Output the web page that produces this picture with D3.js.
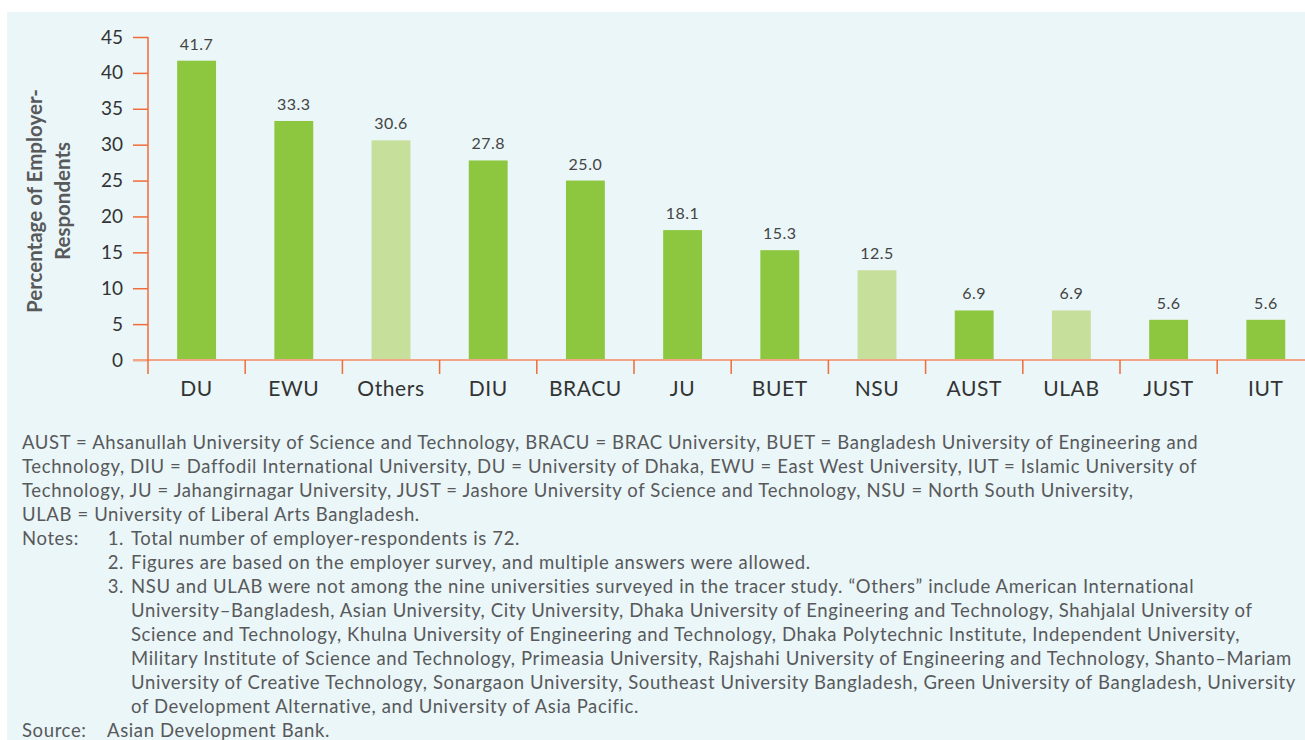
<!DOCTYPE html>
<html>
<head>
<meta charset="utf-8">
<script src="https://cdn.jsdelivr.net/npm/d3@7"></script>
<style>
  body { margin: 0; background: #fff; }
  svg text { font-family: Lato, "Open Sans", sans-serif; }
</style>
</head>
<body>
<div id="chart"></div>
<script>
// Data
var categories = ["DU", "EWU", "Others", "DIU", "BRACU", "JU", "BUET", "NSU", "AUST", "ULAB", "JUST", "IUT"];
var values = [41.7, 33.3, 30.6, 27.8, 25.0, 18.1, 15.3, 12.5, 6.9, 6.9, 5.6, 5.6];
var notSurveyed = ["Others", "NSU", "ULAB"];
var yTicks = [0, 5, 10, 15, 20, 25, 30, 35, 40, 45];

var noteLines = [
  "AUST = Ahsanullah University of Science and Technology, BRACU = BRAC University, BUET = Bangladesh University of Engineering and",
  "Technology, DIU = Daffodil International University, DU = University of Dhaka, EWU = East West University, IUT = Islamic University of",
  "Technology, JU = Jahangirnagar University, JUST = Jashore University of Science and Technology, NSU = North South University,",
  "ULAB = University of Liberal Arts Bangladesh."
];
var notes = [
  ["1.", "Total number of employer-respondents is 72."],
  ["2.", "Figures are based on the employer survey, and multiple answers were allowed."],
  ["3.", "NSU and ULAB were not among the nine universities surveyed in the tracer study. \u201cOthers\u201d include American International"],
  ["", "University\u2013Bangladesh, Asian University, City University, Dhaka University of Engineering and Technology, Shahjalal University of"],
  ["", "Science and Technology, Khulna University of Engineering and Technology, Dhaka Polytechnic Institute, Independent University,"],
  ["", "Military Institute of Science and Technology, Primeasia University, Rajshahi University of Engineering and Technology, Shanto\u2013Mariam"],
  ["", "University of Creative Technology, Sonargaon University, Southeast University Bangladesh, Green University of Bangladesh, University"],
  ["", "of Development Alternative, and University of Asia Pacific."]
];

var svgWidth = 1305;
var svgHeight = 740;
var margin = { top: 37, left: 148 };
var chartHeight = 323;

var svg = d3.select("#chart")
  .append("svg")
  .attr("width", svgWidth)
  .attr("height", svgHeight);

// panel background
svg.append("rect")
  .attr("x", 7)
  .attr("y", 12)
  .attr("width", svgWidth - 7)
  .attr("height", svgHeight - 12)
  .attr("fill", "#eaf6f8");

var chartGroup = svg.append("g")
  .attr("transform", `translate(${margin.left}, ${margin.top})`);

var xScale = d3.scaleBand()
  .domain(categories)
  .range([0, 12 * 97.2])
  .paddingInner(0.6)
  .paddingOuter(0.3);

var yScale = d3.scaleLinear()
  .domain([0, 45])
  .range([chartHeight, 0]);

// bars
chartGroup.selectAll("rect.bar")
  .data(values)
  .enter()
  .append("rect")
  .attr("class", "bar")
  .attr("x", (d, i) => xScale(categories[i]))
  .attr("y", d => yScale(d))
  .attr("width", xScale.bandwidth())
  .attr("height", d => chartHeight - yScale(d))
  .attr("fill", (d, i) => notSurveyed.includes(categories[i]) ? "#c6df9b" : "#8dc63f");

// value labels
chartGroup.selectAll("text.val")
  .data(values)
  .enter()
  .append("text")
  .attr("class", "val")
  .attr("x", (d, i) => xScale(categories[i]) + xScale.bandwidth() / 2)
  .attr("y", d => yScale(d) - 11)
  .attr("text-anchor", "middle")
  .attr("font-size", 16)
  .style("letter-spacing", "0.5px")
  .attr("fill", "#444")
  .text(d => d.toFixed(1));

// y axis
var leftAxis = d3.axisLeft(yScale)
  .tickValues(yTicks)
  .tickSize(15)
  .tickPadding(10);

var yAxisG = chartGroup.append("g").call(leftAxis);
yAxisG.select(".domain").remove();
yAxisG.selectAll(".tick line").attr("stroke", "#f26b3a").attr("stroke-width", 1.5);
yAxisG.selectAll(".tick text")
  .attr("font-size", 19)
  .attr("fill", "#333")
  .attr("font-family", "Lato, sans-serif");

// x axis baseline
chartGroup.append("line")
  .attr("x1", -15)
  .attr("x2", svgWidth - margin.left)
  .attr("y1", chartHeight)
  .attr("y2", chartHeight)
  .attr("stroke", "#f3a585")
  .attr("stroke-width", 2);

// y axis line
chartGroup.append("line")
  .attr("x1", 0)
  .attr("x2", 0)
  .attr("y1", 0)
  .attr("y2", chartHeight + 14)
  .attr("stroke", "#f26b3a")
  .attr("stroke-width", 1.5);

// category separators
chartGroup.selectAll("line.sep")
  .data(categories.slice(1))
  .enter()
  .append("line")
  .attr("class", "sep")
  .attr("x1", d => xScale(d) - xScale.step() * xScale.paddingInner() / 2)
  .attr("x2", d => xScale(d) - xScale.step() * xScale.paddingInner() / 2)
  .attr("y1", chartHeight)
  .attr("y2", chartHeight + 14)
  .attr("stroke", "#f26b3a")
  .attr("stroke-width", 1.5);

// category labels
chartGroup.selectAll("text.cat")
  .data(categories)
  .enter()
  .append("text")
  .attr("class", "cat")
  .attr("x", d => xScale(d) + xScale.bandwidth() / 2)
  .attr("y", chartHeight + 36)
  .attr("text-anchor", "middle")
  .attr("font-size", 21)
  .style("letter-spacing", "0.6px")
  .attr("fill", "#333")
  .text(d => d);

// y axis title
var yTitle = svg.append("text")
  .attr("transform", "translate(0, 201) rotate(-90)")
  .attr("text-anchor", "middle")
  .attr("font-size", 20.5)
  .attr("font-weight", "bold")
  .attr("fill", "#58595b");
yTitle.append("tspan").attr("x", 0).attr("y", 42).text("Percentage of Employer-");
yTitle.append("tspan").attr("x", 0).attr("y", 70).text("Respondents");

// footnotes
var noteGroup = svg.append("g")
  .attr("font-size", 18.5)
  .style("letter-spacing", "0.62px")
  .attr("fill", "#58595b");

noteGroup.selectAll("text.def")
  .data(noteLines)
  .enter()
  .append("text")
  .attr("class", "def")
  .attr("x", 22)
  .attr("y", (d, i) => 449 + i * 24)
  .text(d => d);

var noteStart = 449 + noteLines.length * 24;
noteGroup.append("text")
  .attr("x", 22)
  .attr("y", noteStart)
  .text("Notes:");

noteGroup.selectAll("text.num")
  .data(notes)
  .enter()
  .append("text")
  .attr("x", 124)
  .attr("y", (d, i) => noteStart + i * 24)
  .attr("text-anchor", "end")
  .text(d => d[0]);

noteGroup.selectAll("text.note")
  .data(notes)
  .enter()
  .append("text")
  .attr("x", 131)
  .attr("y", (d, i) => noteStart + i * 24)
  .text(d => d[1]);

noteGroup.append("text")
  .attr("x", 22)
  .attr("y", noteStart + notes.length * 24)
  .text("Source:");
noteGroup.append("text")
  .attr("x", 107)
  .attr("y", noteStart + notes.length * 24)
  .text("Asian Development Bank.");
</script>
</body>
</html>
